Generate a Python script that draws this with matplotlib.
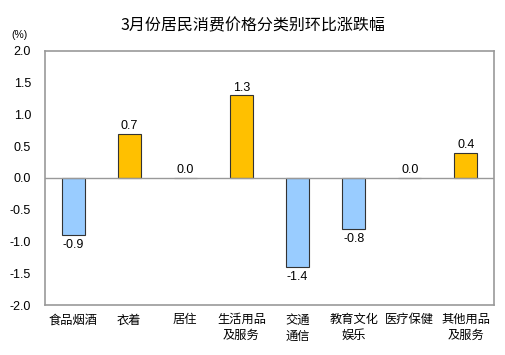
import matplotlib.pyplot as plt

plt.rcParams['font.family'] = ['Noto Sans CJK SC', 'DejaVu Sans']

# category labels and month-on-month change (%)
categories = ['食品烟酒', '衣着', '居住', '生活用品\n及服务', '交通\n通信',
              '教育文化\n娱乐', '医疗保健', '其他用品\n及服务']
values = [-0.9, 0.7, 0.0, 1.3, -1.4, -0.8, 0.0, 0.4]
y_ticks = [-2.0, -1.5, -1.0, -0.5, 0.0, 0.5, 1.0, 1.5, 2.0]

colors = ['#FFC000' if v > 0 else '#99CCFF' for v in values]

fig = plt.figure(figsize=(5.06, 3.55), dpi=100)
ax = fig.add_axes([45 / 506, 50 / 355, 449 / 506, 254 / 355])

x = range(len(categories))
ax.bar(x, values, width=0.41, color=colors, edgecolor='#333333', linewidth=0.8)
ax.axhline(0, color='#999999', linewidth=1.0)

for i, v in enumerate(values):
    if v < 0:
        ax.text(i, v - 0.06, f'{v:.1f}', ha='center', va='top', fontsize=9,
                family='Liberation Sans')
    else:
        ax.text(i, v + 0.03, f'{v:.1f}', ha='center', va='bottom', fontsize=9,
                family='Liberation Sans')

ax.set_xlim(-0.5, len(categories) - 0.5)
ax.set_ylim(-2.0, 2.0)
ax.set_yticks(y_ticks)
ax.set_yticklabels([f'{t:.1f}' for t in y_ticks], family='Liberation Sans', fontsize=9)
ax.set_xticks(list(x))
ax.set_xticklabels(categories, fontsize=8.8, linespacing=1.3, va='top')
ax.tick_params(axis='y', length=0, pad=10)
ax.tick_params(axis='x', length=0, pad=6)

for s in ax.spines.values():
    s.set_color('#999999')
    s.set_linewidth(1.2)

fig.text(11 / 506, 1 - 35 / 355, '(%)', fontsize=7.5, family='Liberation Sans', va='center')
fig.text(0.5, 1 - 26 / 355, '3月份居民消费价格分类别环比涨跌幅', ha='center', va='center',
         fontsize=11.5)

fig.savefig('out.png', dpi=100)
